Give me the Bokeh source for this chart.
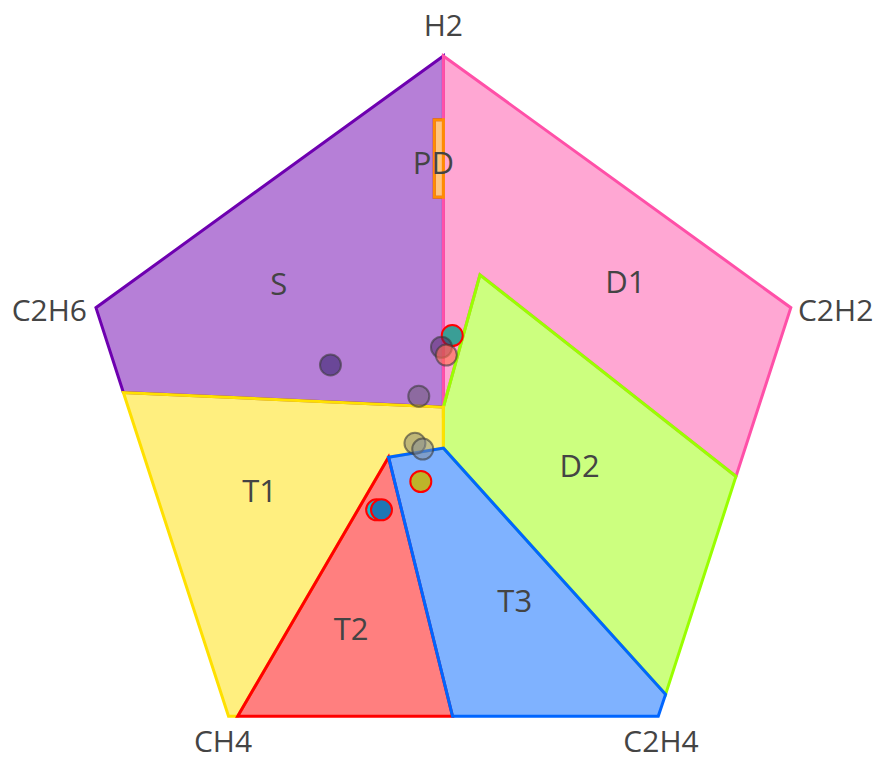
from bokeh.plotting import figure
from bokeh.models import Range1d, ColumnDataSource
from bokeh.core.properties import value
from bokeh.embed import file_html
from bokeh.resources import INLINE

# Duval pentagon 1 zone boundaries (pentagon coordinates)
zone_names = ["S", "D1", "D2", "T1", "T2", "T3", "PD"]
S_x = [0, -35, -38, 0, 0, -1, -1, 0]
S_y = [1.5, 3.1, 12.4, 40, 33, 33, 24.5, 24.5]
D1_x = [0, 38, 32, 4, 0]
D1_y = [40, 12.4, -6.1, 16, 1.5]
D2_x = [4, 32, 24.3, 0, 0]
D2_y = [16, -6.1, -30, -3, 1.5]
T1_x = [-6, -22.5, -23.5, -35, 0, 0]
T1_y = [-4, -32.4, -32.4, 3.1, 1.5, -3]
T2_x = [-6, 1, -22.5]
T2_y = [-4, -32.4, -32.4]
T3_x = [0, 24.3, 23.5, 1, -6]
T3_y = [-3, -30, -32.4, -32.4, -4]
PD_x = [0, -1, -1, 0]
PD_y = [33, 33, 24.5, 24.5]

zone_colors = {"S": "#6e00b0", "D1": "#ff50a8", "D2": "#99ff00", "T1": "#ffe000",
               "T2": "#ff0000", "T3": "#0066ff", "PD": "#ff8c00"}

# zone label positions
label_text = ["S", "PD", "D1", "D2", "T1", "T2", "T3"]
label_x = [-18.0, -1.1, 19.9, 14.9, -20.1, -10.1, 7.8]
label_y = [15.1, 28.4, 15.3, -4.8, -7.6, -22.7, -19.7]

# gas vertex labels
gas_text = ["H2", "C2H2", "C2H6", "CH4", "C2H4"]
gas_x = [0.0, 42.9, -43.1, -24.1, 23.8]
gas_y = [43.4, 12.2, 12.2, -35.1, -35.1]

# sample points
pt_x = [0.97, -0.21, 0.32, -12.35, -2.69, -3.11, -2.26, -2.47, -7.3, -6.77]
pt_y = [9.34, 8.06, 7.2, 6.12, 2.69, -2.47, -3.11, -6.66, -9.77, -9.77]
pt_fill = ["#3a9e96", "#4a2060", "#ff6a4a", "#1e0f5a", "#645569",
           "#807f70", "#7f8a9a", "#bdb42a", "#17becf", "#1f77b4"]
pt_alpha = [1.0, 0.5, 0.6, 0.5, 0.5, 0.5, 0.5, 1.0, 1.0, 1.0]
pt_line = ["#ff0000", "#3a3a3a", "#3a3a3a", "#3a3a3a", "#3a3a3a",
           "#3a3a3a", "#3a3a3a", "#ff0000", "#ff0000", "#ff0000"]
pt_line_alpha = [1.0, 0.6, 0.6, 0.6, 0.6, 0.6, 0.6, 1.0, 1.0, 1.0]

W, H = 876, 767
p = figure(width=W, height=H, output_backend="svg", toolbar_location=None,
           x_range=Range1d(-48.44, 47.37), y_range=Range1d(-38.02, 46.08),
           x_axis_location=None, y_axis_location=None, min_border=0)
p.grid.visible = False
p.outline_line_color = None
p.background_fill_color = "white"

zones = {"S": (S_x, S_y), "D1": (D1_x, D1_y), "D2": (D2_x, D2_y), "T1": (T1_x, T1_y),
         "T2": (T2_x, T2_y), "T3": (T3_x, T3_y), "PD": (PD_x, PD_y)}
for name in zone_names:
    xs, ys = zones[name]
    c = zone_colors[name]
    p.patch(xs, ys, fill_color=c, fill_alpha=0.5, line_color=c, line_width=3,
            line_join="miter")

font = value("Open Sans")
p.text(x=label_x, y=label_y, text=label_text, text_font=font, text_font_size="31px",
       text_color="#444444", text_align="center", text_baseline="middle")
p.text(x=gas_x, y=gas_y, text=gas_text, text_font=font, text_font_size="30px",
       text_color="#444444", text_align="center", text_baseline="middle")

src = ColumnDataSource(dict(x=pt_x, y=pt_y, fill=pt_fill, fa=pt_alpha,
                            lc=pt_line, la=pt_line_alpha))
p.scatter("x", "y", source=src, size=21, fill_color="fill", fill_alpha="fa",
          line_color="lc", line_alpha="la", line_width=2)

open("out.html", "w").write(file_html(p, INLINE))
